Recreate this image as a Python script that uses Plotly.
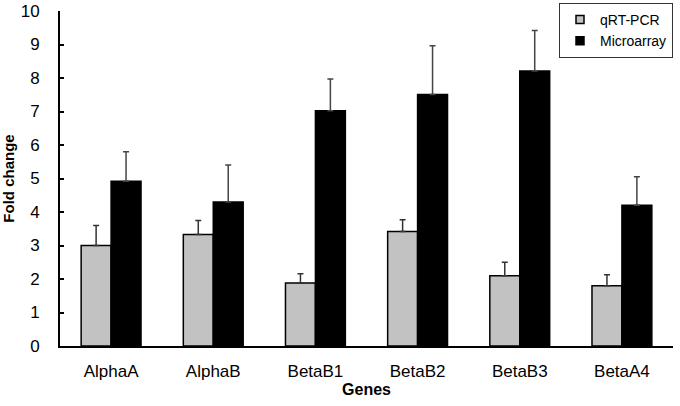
import plotly.graph_objects as go

genes = ["AlphaA", "AlphaB", "BetaB1", "BetaB2", "BetaB3", "BetaA4"]
qrt_pcr = [3.0, 3.33, 1.88, 3.42, 2.1, 1.8]
qrt_err = [0.6, 0.42, 0.28, 0.35, 0.4, 0.33]
microarray = [4.92, 4.3, 7.02, 7.51, 8.21, 4.2]
micro_err = [0.88, 1.1, 0.95, 1.45, 1.21, 0.85]
y_ticks = list(range(0, 11))

QRT_COLOR = "#c2c2c2"
MICRO_COLOR = "black"

fig = go.Figure()
fig.add_trace(go.Bar(
    x=genes, y=qrt_pcr, name="qRT-PCR", showlegend=False,
    marker=dict(color=QRT_COLOR, line=dict(color="black", width=1.5)),
    error_y=dict(type="data", array=qrt_err, arrayminus=[0]*len(qrt_err), symmetric=False,
                 color="#333333", thickness=1.5, width=3),
))
fig.add_trace(go.Bar(
    x=genes, y=microarray, name="Microarray", showlegend=False,
    marker=dict(color=MICRO_COLOR, line=dict(color="black", width=1.5)),
    error_y=dict(type="data", array=micro_err, arrayminus=[0]*len(micro_err), symmetric=False,
                 color="#444444", thickness=1.5, width=3),
))
# legend entries with small square glyphs
fig.add_trace(go.Scatter(
    x=[None], y=[None], mode="markers", name="qRT-PCR",
    marker=dict(symbol="square", size=8, color=QRT_COLOR, line=dict(color="black", width=1.5)),
))
fig.add_trace(go.Scatter(
    x=[None], y=[None], mode="markers", name="Microarray",
    marker=dict(symbol="square", size=8, color=MICRO_COLOR, line=dict(color="black", width=1.5)),
))

fig.update_layout(
    width=680, height=406,
    margin=dict(l=60, r=7, t=11, b=60, autoexpand=False),
    plot_bgcolor="white", paper_bgcolor="white",
    barmode="group", bargap=0.414, bargroupgap=0,
    font=dict(family="Liberation Sans, Arial, sans-serif", color="black"),
    showlegend=True,
    legend=dict(
        x=1.0, xanchor="right", y=1.024, yanchor="top",
        bordercolor="#333333", borderwidth=1, bgcolor="white",
        font=dict(size=14), itemwidth=30,
        tracegroupgap=0,
    ),
    xaxis=dict(
        showline=True, linecolor="black", linewidth=2,
        showgrid=False, ticks="", tickfont=dict(size=17),
        ticklabelstandoff=9,
        title=dict(text="<b>Genes</b>", font=dict(size=16), standoff=3),
    ),
    yaxis=dict(
        range=[0, 10], tickvals=y_ticks,
        showline=True, linecolor="black", linewidth=2,
        showgrid=False, zeroline=False,
        ticks="inside", ticklen=4, tickwidth=1.5, tickcolor="black",
        tickfont=dict(size=17), ticklabelstandoff=15,
        title=dict(text="<b>Fold change</b>", font=dict(size=15), standoff=2),
    ),
)

fig.write_html("out.html", config={"displayModeBar": False},
               post_script="document.body.style.margin='0';")
